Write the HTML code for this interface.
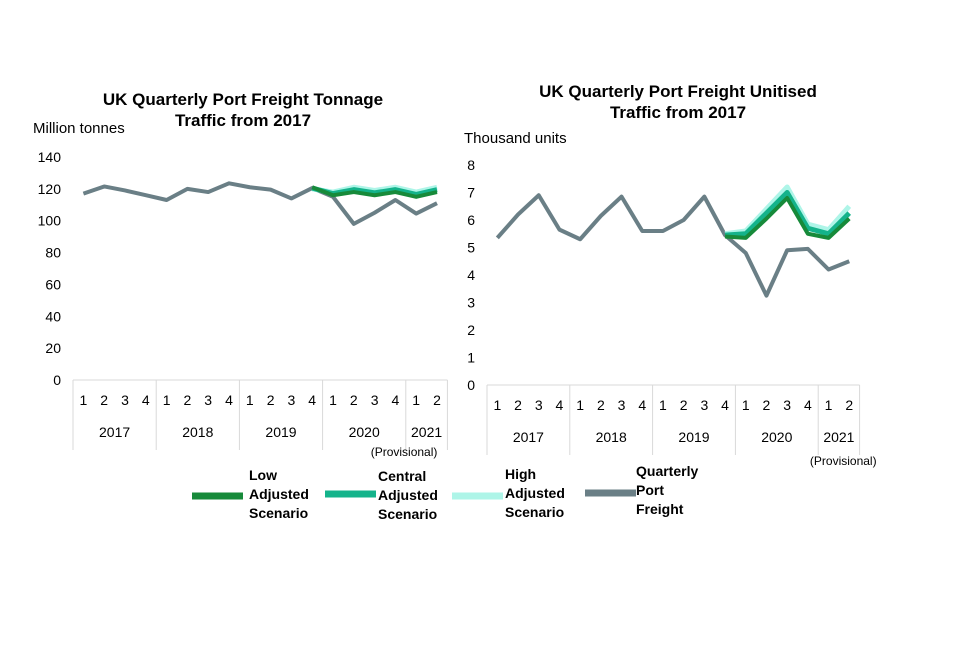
<!DOCTYPE html>
<html><head><meta charset="utf-8"><style>
body{margin:0;background:#fff;font-family:"Liberation Sans",sans-serif}
svg text{font-family:"Liberation Sans",sans-serif}
</style></head><body>
<svg width="960" height="640" xmlns="http://www.w3.org/2000/svg">
<g id="c1"></g>
<g id="c2"></g>
<g id="lg"></g>
</svg>
<script>
const quarters=["1","2","3","4","1","2","3","4","1","2","3","4","1","2","3","4","1","2"];
const years=["2017","2018","2019","2020","2021"];
const yearSizes=[4,4,4,4,2];
const tonTicks=[0,20,40,60,80,100,120,140];
const tonActual=[117,121.5,119,116,113,120,118,123.5,121,119.5,114,120.5,115,98,105,113,104.5,111];
const tonLow=[121,116,118,116,118,115,118];
const tonCentral=[120.5,117,119.5,117.5,119.5,116.5,119.5];
const tonHigh=[120,118,121,119,121,118,121];
const unitTicks=[0,1,2,3,4,5,6,7,8];
const unitActual=[5.35,6.2,6.9,5.65,5.3,6.15,6.85,5.6,5.6,6.0,6.85,5.45,4.8,3.25,4.9,4.95,4.2,4.5];
const unitLow=[5.4,5.35,6.05,6.8,5.5,5.35,6.05];
const unitCentral=[5.45,5.5,6.25,7.0,5.7,5.5,6.25];
const unitHigh=[5.5,5.6,6.4,7.2,5.85,5.65,6.5];
const COL={low:"#178a3a",central:"#14b38b",high:"#aef5e8",actual:"#6a7f86"};
const NS="http://www.w3.org/2000/svg";
function mk(p,t,a,txt){const e=document.createElementNS(NS,t);for(const k in a)e.setAttribute(k,a[k]);if(txt!=null)e.textContent=txt;p.appendChild(e);return e;}
function chart(g,o){
  const x=i=>o.x0+o.bw*(i+0.5);
  const y=v=>o.yb-(v-0)/o.ymax*(o.yb-o.yt);
  o.ticks.forEach(t=>{const e=mk(g,"text",{x:o.x0-12,y:y(t)+5,"text-anchor":"end","font-size":14,fill:"#000"},t);
    
    });
  const ax=mk(g,"line",{x1:o.x0,x2:o.x0+o.bw*quarters.length,y1:o.yb,y2:o.yb,stroke:"#d9d9d9","stroke-width":1});
  
  
  quarters.forEach((q,i)=>{const e=mk(g,"text",{x:x(i),y:o.yb+25,"text-anchor":"middle","font-size":14},q);
    
    });
  let s=0;
  const sep=xx=>{const l=mk(g,"line",{x1:xx,x2:xx,y1:o.yb,y2:o.yb+70,stroke:"#d9d9d9"});
    
    };
  sep(o.x0);
  years.forEach((yr,k)=>{const a=o.x0+o.bw*s;s+=yearSizes[k];const b=o.x0+o.bw*s;sep(b);
    const e=mk(g,"text",{x:(a+b)/2,y:o.yb+57,"text-anchor":"middle","font-size":14},yr);
    
    });
  const pv=mk(g,"text",{x:o.x0+o.bw*18+(o.provDx||0),y:o.yb+o.provDy,"text-anchor":"end","font-size":12},"(Provisional)");
  
  
  const line=(arr,start,col,name,w)=>{const p=mk(g,"polyline",{points:arr.map((v,i)=>x(i+start)+","+y(v)).join(" "),fill:"none",stroke:col,"stroke-width":w,"stroke-linejoin":"round"});
    
    };
  line(o.actual,0,COL.actual,"quarterly-port-freight-line",4);
  line(o.high,11,COL.high,"high-scenario-line",5);
  line(o.central,11,COL.central,"central-scenario-line",5);
  line(o.low,11,COL.low,"low-scenario-line",4);
  o.title.forEach((t,i)=>{const e=mk(g,"text",{x:o.tx,y:o.ty+i*21,"text-anchor":"middle","font-size":17,"font-weight":"bold"},t);
    
    });
  const yt=mk(g,"text",{x:o.ytx,y:o.yty,"font-size":15},o.ytitle);
  
  
}
chart(document.getElementById("c1"),{x0:73,bw:20.8,yb:380,yt:157,ymax:140,ticks:tonTicks,actual:tonActual,low:tonLow,central:tonCentral,high:tonHigh,
  title:["UK Quarterly Port Freight Tonnage","Traffic from 2017"],tx:243,ty:105,ytitle:"Million tonnes",ytx:33,yty:133,provDy:76,provDx:-10});
chart(document.getElementById("c2"),{x0:487,bw:20.7,yb:385,yt:165,ymax:8,ticks:unitTicks,actual:unitActual,low:unitLow,central:unitCentral,high:unitHigh,
  title:["UK Quarterly Port Freight Unitised","Traffic from 2017"],tx:678,ty:97,ytitle:"Thousand units",ytx:464,yty:143,provDy:80,provDx:17});
const lg=document.getElementById("lg");
const legItems=[["low",192,496,249,["Low","Adjusted","Scenario"],480],["central",325,494,378,["Central","Adjusted","Scenario"],481],["high",452,496,505,["High","Adjusted","Scenario"],479],["actual",585,493,636,["Quarterly","Port","Freight"],476]];
legItems.forEach(([k,sx,sy,tx,lines,ty])=>{
  const g=mk(lg,"g",{});
  
  
  mk(g,"line",{x1:sx,x2:sx+51,y1:sy,y2:sy,stroke:COL[k],"stroke-width":7});
  lines.forEach((t,i)=>mk(g,"text",{x:tx,y:ty+i*19,"font-size":14,"font-weight":"bold"},t));
});
</script>
</body></html>
